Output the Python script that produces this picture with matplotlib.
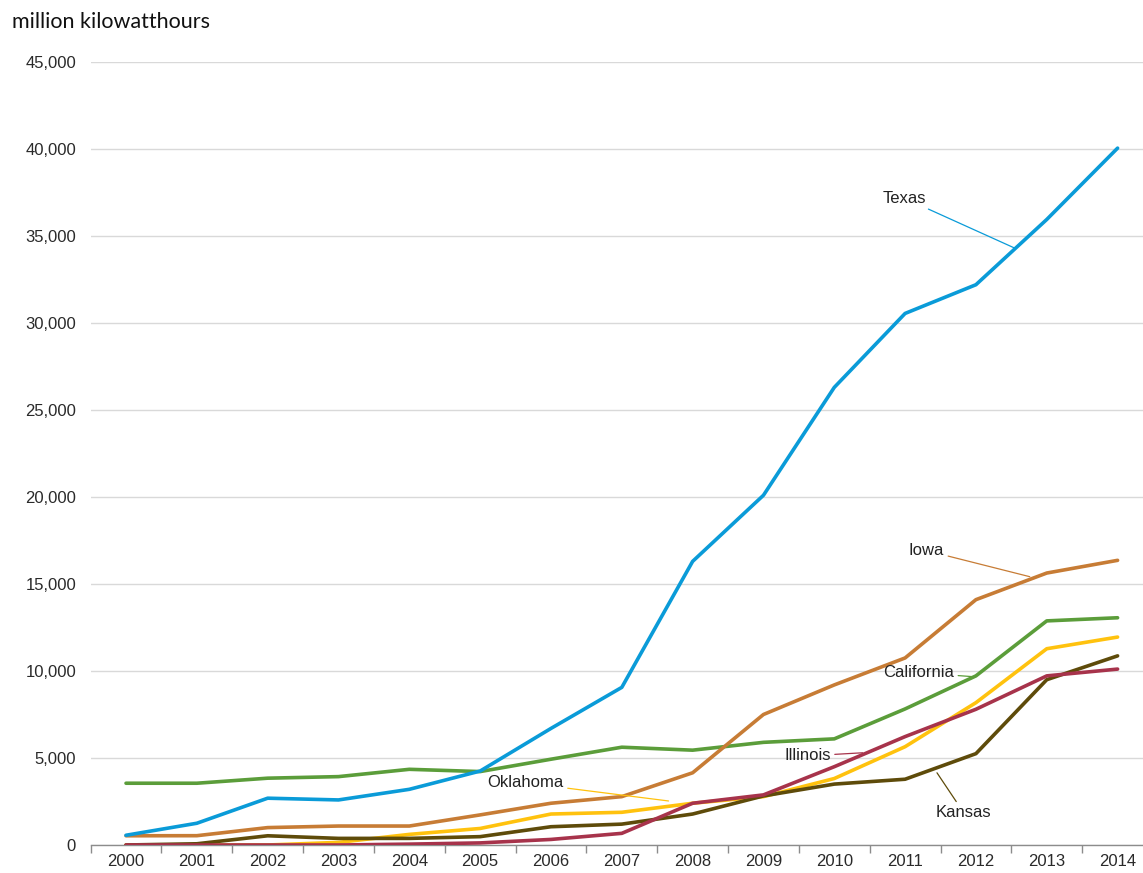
import matplotlib
matplotlib.use("Agg")
import matplotlib.pyplot as plt
from matplotlib.ticker import FuncFormatter

years = [str(y) for y in range(2000, 2015)]

texas      = [560, 1250, 2690, 2590, 3200, 4250, 6700, 9060, 16300, 20100, 26300, 30550, 32200, 35950, 40050]
iowa       = [530, 535, 1000, 1090, 1090, 1730, 2400, 2780, 4150, 7500, 9200, 10750, 14100, 15630, 16360]
california = [3550, 3550, 3840, 3930, 4350, 4220, 4930, 5620, 5450, 5900, 6100, 7820, 9720, 12880, 13060]
oklahoma   = [0, 0, 0, 150, 610, 950, 1780, 1880, 2400, 2780, 3820, 5650, 8180, 11280, 11950]
kansas     = [0, 70, 530, 380, 380, 480, 1050, 1200, 1780, 2820, 3500, 3780, 5250, 9500, 10870]
illinois   = [0, 0, 0, 0, 50, 120, 320, 670, 2400, 2880, 4500, 6230, 7800, 9720, 10110]

series = [
    ("California", california, "#5b9d3a"),
    ("Iowa", iowa, "#c77c35"),
    ("Oklahoma", oklahoma, "#ffc20e"),
    ("Kansas", kansas, "#5e4b0a"),
    ("Illinois", illinois, "#a7334b"),
    ("Texas", texas, "#0a9bd8"),
]

# label text position and leader-line end, in data units
labels = {
    "Texas":      ((10.99, 37170), (12.55, 34300)),
    "Iowa":       ((11.30, 16920), (12.76, 15420)),
    "California": ((11.19, 9900), (11.94, 9680)),
    "Illinois":   ((9.62, 5120), (10.40, 5300)),
    "Oklahoma":   ((5.64, 3570), (7.66, 2530)),
    "Kansas":     ((11.83, 1840), (11.45, 4150)),
}

W, H = 1143, 873
fig = plt.figure(figsize=(W / 100, H / 100), dpi=100)
left, right, bottom, top = 90.6, 1153.0, 845.0, 62.0
ax = fig.add_axes([left / W, (H - bottom) / H, (right - left) / W, (bottom - top) / H])

x = list(range(len(years)))
for name, vals, col in series:
    ax.plot(x, vals, color=col, lw=2.6, solid_joinstyle="round", solid_capstyle="round", zorder=3)

colors = {n: c for n, _, c in series}
for name, ((tx, ty), (ex, ey)) in labels.items():
    ax.annotate(name, xy=(ex, ey), xytext=(tx, ty), textcoords="data",
                ha="center", va="center", fontsize=12, color="#222222",
                family="Liberation Sans",
                arrowprops=dict(arrowstyle="-", color=colors[name], lw=0.9,
                                shrinkA=1, shrinkB=0),
                zorder=4)

ax.set_xlim(-0.5, len(years) - 0.5)
ax.set_ylim(0, 45000)
ax.set_yticks(range(0, 45001, 5000))
ax.yaxis.set_major_formatter(FuncFormatter(lambda v, p: f"{int(v):,}"))
ax.set_xticks(x)
ax.set_xticklabels(years)
ax.set_xticks([i - 0.5 for i in range(len(years) + 1)], minor=True)

ax.grid(axis="y", color="#d9d9d9", lw=1.0, zorder=0)
ax.set_axisbelow(True)
for s in ["left", "right", "top"]:
    ax.spines[s].set_visible(False)
ax.spines["bottom"].set_color("#8c8c8c")
ax.spines["bottom"].set_linewidth(1.0)

ax.tick_params(axis="y", length=0, pad=10.5, labelsize=12, labelcolor="#2a2a2a")
ax.tick_params(axis="x", which="major", length=0, pad=6.5, labelsize=12, labelcolor="#2a2a2a")
ax.tick_params(axis="x", which="minor", length=6, color="#8c8c8c", width=1.0)
for lab in ax.get_xticklabels() + ax.get_yticklabels():
    lab.set_family("Liberation Sans")

fig.text(12 / W, 1 - 22 / H, "million kilowatthours", fontsize=15.5, family="Lato",
         color="#111111", ha="left", va="center")

fig.savefig("out.png", dpi=100)
